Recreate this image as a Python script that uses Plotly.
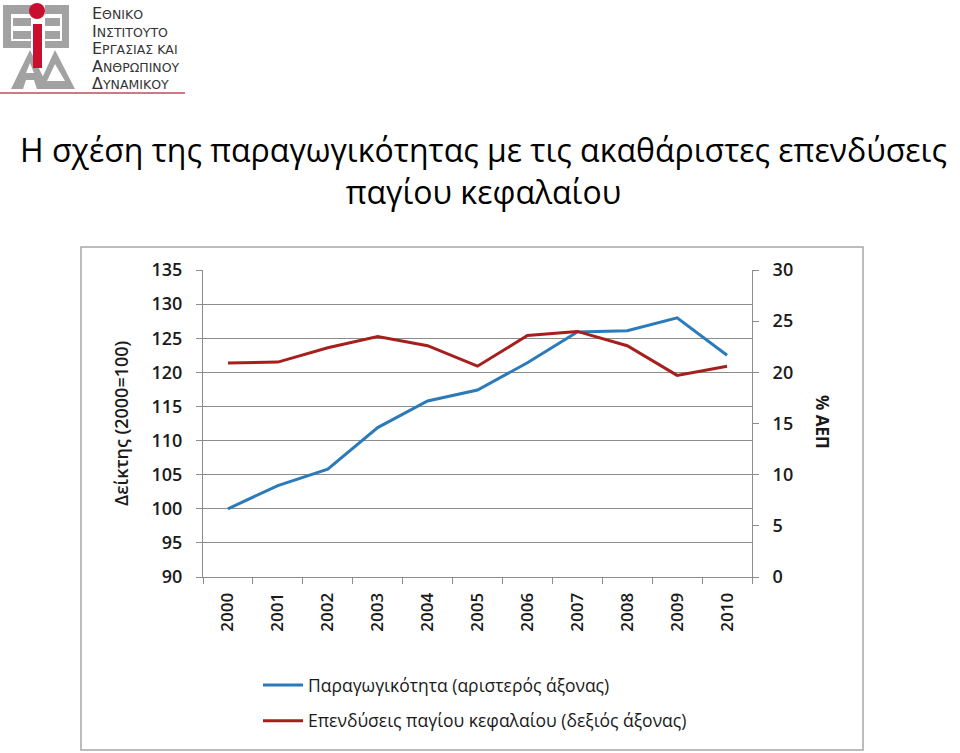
import plotly.graph_objects as go

# ---------------- data ----------------
years = ['2000', '2001', '2002', '2003', '2004', '2005', '2006', '2007', '2008', '2009', '2010']
productivity = [100.0, 103.4, 105.8, 111.9, 115.8, 117.4, 121.4, 125.9, 126.1, 128.0, 122.5]
investment = [20.9, 21.0, 22.4, 23.5, 22.6, 20.6, 23.6, 24.0, 22.6, 19.7, 20.6]
left_ticks = [90, 95, 100, 105, 110, 115, 120, 125, 130, 135]
right_ticks = [0, 5, 10, 15, 20, 25, 30]

W, H = 960, 753
FONT = "Open Sans"


def X(px):
    return px / W


def Y(py):
    return 1 - py / H


fig = go.Figure()
fig.add_trace(go.Scatter(
    x=years, y=productivity, mode='lines', name='Παραγωγικότητα (αριστερός άξονας)',
    line=dict(color='#2b7bba', width=3), legendgroup='a', yaxis='y'))
fig.add_trace(go.Scatter(
    x=years, y=investment, mode='lines', name='Επενδύσεις παγίου κεφαλαίου (δεξιός άξονας)',
    line=dict(color='#a51f1d', width=3), legendgroup='b', yaxis='y2'))

ytickfont = dict(family=FONT, size=18, color='#1a1a1a', weight=600)

fig.update_layout(
    width=W, height=H, autosize=False,
    margin=dict(l=0, r=0, t=0, b=0),
    paper_bgcolor='white', plot_bgcolor='white',
    showlegend=True,
    legend=dict(x=X(258), y=Y(667), xanchor='left', yanchor='top',
                font=dict(family=FONT, size=17.5, color='#1a1a1a'),
                bgcolor='rgba(0,0,0,0)', tracegroupgap=10, itemwidth=40),
    xaxis=dict(domain=[X(203), X(752)], type='category', range=[-0.5, 10.5],
               showgrid=False, showline=True, linecolor='#8c8c8c', linewidth=1,
               ticks='outside', tickson='boundaries', ticklen=6, tickcolor='#8c8c8c',
               tickangle=-90, tickfont=dict(family=FONT, size=17, color='#1a1a1a', weight=600),
               ticklabelstandoff=8, automargin=False),
    yaxis=dict(domain=[Y(577), Y(270)], range=[90, 135], tickvals=left_ticks,
               showgrid=True, gridcolor='#8c8c8c', gridwidth=1,
               showline=True, linecolor='#8c8c8c', linewidth=1,
               ticks='outside', ticklen=6, tickcolor='#8c8c8c',
               tickfont=ytickfont, ticklabelstandoff=10, zeroline=False, automargin=False),
    yaxis2=dict(overlaying='y', side='right', anchor='x', range=[0, 30], tickvals=right_ticks,
                showgrid=False, showline=True, linecolor='#8c8c8c', linewidth=1,
                ticks='outside', ticklen=6, tickcolor='#8c8c8c',
                tickfont=ytickfont, ticklabelstandoff=10, zeroline=False, automargin=False),
)

annotations = []
# Title (two lines in one text)
annotations.append(dict(text='Η σχέση της παραγωγικότητας με τις ακαθάριστες επενδύσεις<br>παγίου κεφαλαίου',
                        x=X(483), y=Y(170), xref='paper', yref='paper', showarrow=False,
                        xanchor='center', yanchor='middle', align='center',
                        font=dict(family=FONT, size=32, color='#000000')))
# Axis titles
annotations.append(dict(text='Δείκτης (2000=100)', x=X(121), y=Y(424), xref='paper', yref='paper',
                        showarrow=False, textangle=-90, xanchor='center', yanchor='middle',
                        font=dict(family=FONT, size=18, color='#1a1a1a', weight=600)))
annotations.append(dict(text='% ΑΕΠ', x=X(822), y=Y(422), xref='paper', yref='paper',
                        showarrow=False, textangle=90, xanchor='center', yanchor='middle',
                        font=dict(family=FONT, size=17, color='#1a1a1a', weight='bold')))

# Logo text (small caps style), one block
logo_lines = [('Ε', 'ΘΝΙΚΟ'), ('Ι', 'ΝΣΤΙΤΟΥΤΟ'), ('Ε', 'ΡΓΑΣΙΑΣ ΚΑΙ'),
              ('Α', 'ΝΘΡΩΠΙΝΟΥ'), ('Δ', 'ΥΝΑΜΙΚΟΥ')]
logo_text = '<br>'.join(
    f"<span style='font-size:16px'>{a}</span><span style='font-size:12.5px'>{b}</span>"
    for a, b in logo_lines)
annotations.append(dict(
    text=logo_text, x=X(90), y=Y(49), xref='paper', yref='paper', showarrow=False,
    xanchor='left', yanchor='middle', align='left',
    font=dict(family='DejaVu Sans', size=13.5, color='#333333')))

fig.update_layout(annotations=annotations)

shapes = []
# Chart frame
shapes.append(dict(type='rect', xref='paper', yref='paper', x0=X(81), x1=X(863), y0=Y(750), y1=Y(247),
                   line=dict(color='#a6a6a6', width=1.5), fillcolor='rgba(0,0,0,0)', layer='below'))
# Red line under logo
shapes.append(dict(type='line', xref='paper', yref='paper', x0=X(0), x1=X(185), y0=Y(93), y1=Y(93),
                   line=dict(color='#c24a5c', width=1.5)))

gray = '#a2a2a2'


def rect(x0, y0, x1, y1, color):
    shapes.append(dict(type='rect', xref='paper', yref='paper', x0=X(x0), x1=X(x1), y0=Y(y1), y1=Y(y0),
                       line=dict(width=0), fillcolor=color))


def poly(pts, color):
    path = 'M ' + ' L '.join(f'{X(a):.5f},{Y(b):.5f}' for a, b in pts) + ' Z'
    shapes.append(dict(type='path', xref='paper', yref='paper', path=path,
                       line=dict(width=0), fillcolor=color))


# Left E
rect(3, 5, 31, 14, gray)
rect(3, 5, 11, 48, gray)
rect(13, 18, 31, 26, gray)
rect(13, 31, 31, 39, gray)
rect(3, 41, 31, 48, gray)
# Right E
rect(45, 5, 69, 14, gray)
rect(62, 5, 69, 48, gray)
rect(45, 18, 60, 26, gray)
rect(45, 31, 60, 39, gray)
rect(45, 41, 69, 48, gray)
# A and Δ
poly([(30, 50), (11, 89), (49, 89)], gray)
poly([(55, 50), (37, 89), (75, 89)], gray)
poly([(30, 63), (26, 73), (34, 73)], 'white')
poly([(23, 89), (26, 80), (34, 80), (37, 89)], 'white')
poly([(55, 64), (47, 81), (65, 81)], 'white')
# Red i
rect(33, 24, 42, 68, '#c8102e')
shapes.append(dict(type='circle', xref='paper', yref='paper', x0=X(29), x1=X(45), y0=Y(19), y1=Y(3),
                   line=dict(width=0), fillcolor='#c8102e'))

fig.update_layout(shapes=shapes)

fig.write_html('out.html')
